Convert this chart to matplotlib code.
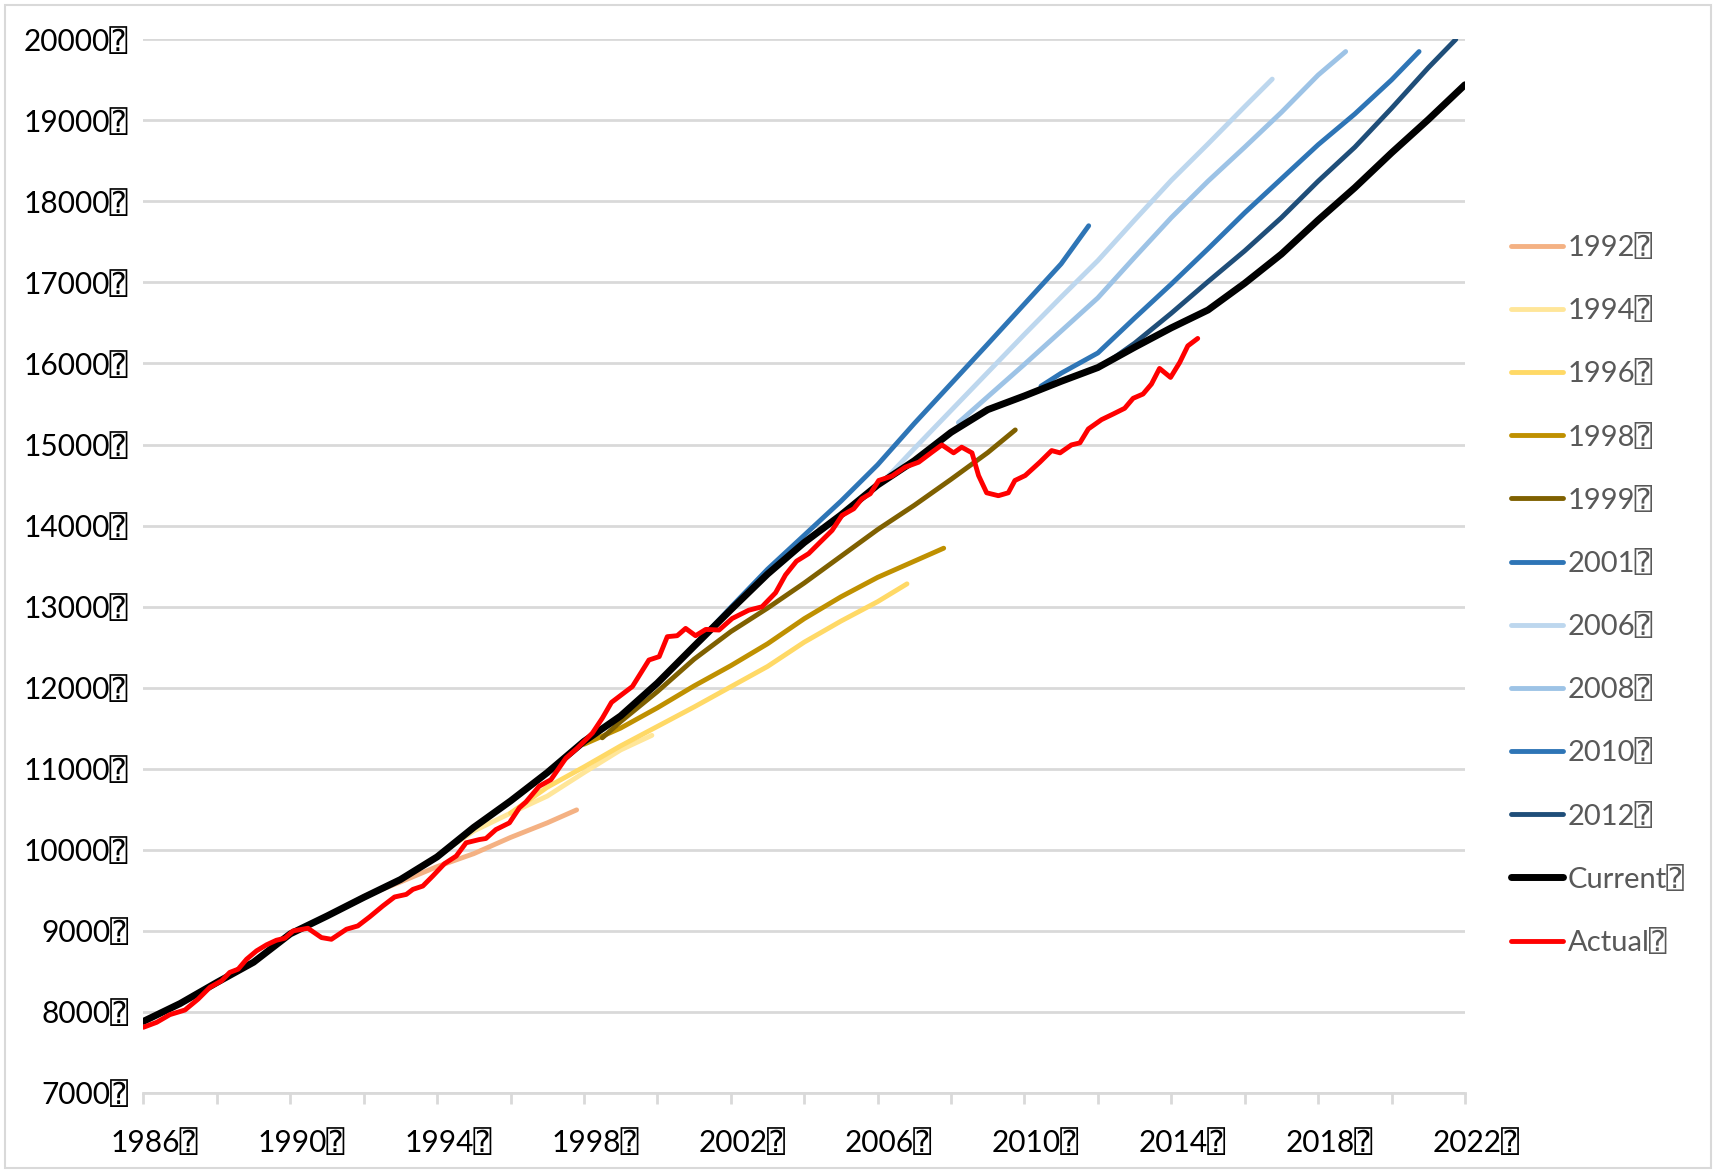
import numpy as np
import matplotlib.pyplot as plt
from matplotlib.patches import Rectangle
from matplotlib.transforms import ScaledTranslation

plt.rcParams['font.family'] = ['Lato', 'DejaVu Sans', 'DejaVu Sans Mono']

BOX = "\u2370"

# potential GDP by vintage (year, value)
yrs_1992 = [1992, 1993, 1994, 1995, 1996, 1997, 1997.8]
gdp_1992 = [9420, 9600, 9790, 9950, 10150, 10330, 10490]

yrs_1994 = [1994, 1995, 1996, 1997, 1998, 1999, 1999.85]
gdp_1994 = [9920, 10230, 10450, 10660, 10950, 11230, 11410]

yrs_1996 = [1996, 1997, 1998, 1999, 2000, 2001, 2002, 2003, 2004, 2005, 2006, 2006.8]
gdp_1996 = [10450, 10770, 11020, 11280, 11520, 11760, 12010, 12260, 12560, 12820, 13060, 13280]

yrs_1998 = [1998, 1999, 2000, 2001, 2002, 2003, 2004, 2005, 2006, 2007, 2007.8]
gdp_1998 = [11300, 11500, 11750, 12020, 12270, 12540, 12850, 13120, 13360, 13560, 13720]

yrs_1999 = [1998.5, 1999, 2000, 2001, 2002, 2003, 2004, 2005, 2006, 2007, 2008, 2009, 2009.75]
gdp_1999 = [11380, 11580, 11950, 12350, 12690, 12980, 13290, 13620, 13950, 14250, 14570, 14900, 15180]

yrs_2001 = [2001, 2002, 2003, 2004, 2005, 2006, 2007, 2008, 2009, 2010, 2011, 2011.75]
gdp_2001 = [12510, 12990, 13460, 13880, 14300, 14750, 15260, 15750, 16240, 16735, 17230, 17700]

yrs_2006 = [2006.25, 2007, 2008, 2009, 2010, 2011, 2012, 2013, 2014, 2015, 2016, 2016.75]
gdp_2006 = [14590, 14950, 15420, 15890, 16360, 16820, 17270, 17770, 18260, 18710, 19170, 19510]

yrs_2008 = [2008.2, 2009, 2010, 2011, 2012, 2013, 2014, 2015, 2016, 2017, 2018, 2018.75]
gdp_2008 = [15270, 15590, 15990, 16400, 16810, 17310, 17800, 18250, 18670, 19100, 19560, 19850]

yrs_2010 = [2010.45, 2011, 2012, 2013, 2014, 2015, 2016, 2017, 2018, 2019, 2020, 2020.75]
gdp_2010 = [15720, 15880, 16130, 16560, 16980, 17415, 17860, 18280, 18700, 19080, 19500, 19850]

yrs_2012 = [2012.25, 2013, 2014, 2015, 2016, 2017, 2018, 2019, 2020, 2021, 2021.75]
gdp_2012 = [16010, 16250, 16620, 17010, 17390, 17800, 18250, 18670, 19150, 19650, 20000]

yrs_current = [1986, 1987, 1988, 1989, 1990, 1991, 1992, 1993, 1994, 1995, 1996, 1997, 1998,
               1999, 2000, 2001, 2002, 2003, 2004, 2005, 2006, 2007, 2008, 2009, 2010, 2011,
               2012, 2013, 2014, 2015, 2016, 2017, 2018, 2019, 2020, 2021, 2022]
gdp_current = [7880, 8100, 8360, 8610, 8960, 9180, 9410, 9630, 9910, 10275, 10600, 10950, 11335,
               11650, 12055, 12510, 12960, 13400, 13790, 14130, 14500, 14800, 15150, 15430, 15600,
               15780, 15950, 16200, 16440, 16660, 16990, 17350, 17770, 18170, 18600, 19010, 19440]

yrs_actual = [1986.0, 1986.36, 1986.72, 1987.13, 1987.49, 1987.81, 1988.13, 1988.35, 1988.58,
              1988.81, 1989.08, 1989.35, 1989.62, 1989.85, 1990.08, 1990.48, 1990.85, 1991.12,
              1991.53, 1991.84, 1992.16, 1992.52, 1992.84, 1993.16, 1993.34, 1993.61, 1993.88,
              1994.2, 1994.52, 1994.79, 1995.15, 1995.33, 1995.6, 1995.97, 1996.24, 1996.42,
              1996.78, 1997.1, 1997.51, 1997.82, 1998.23, 1998.5, 1998.75, 1999.32, 1999.77,
              2000.05, 2000.27, 2000.54, 2000.77, 2001.04, 2001.32, 2001.68, 2002.04, 2002.49,
              2002.85, 2003.22, 2003.49, 2003.79, 2004.12, 2004.44, 2004.76, 2005.03, 2005.35,
              2005.57, 2005.8, 2006.03, 2006.39, 2006.75, 2007.12, 2007.48, 2007.75, 2008.07,
              2008.29, 2008.57, 2008.75, 2008.97, 2009.29, 2009.56, 2009.74, 2010.02, 2010.42,
              2010.74, 2010.97, 2011.28, 2011.51, 2011.74, 2012.1, 2012.42, 2012.73, 2012.96,
              2013.23, 2013.46, 2013.68, 2013.98, 2014.23, 2014.45, 2014.72]
gdp_actual = [7807, 7868, 7963, 8020, 8155, 8300, 8381, 8484, 8524,
              8647, 8750, 8824, 8881, 8906, 8997, 9029, 8914, 8893,
              9017, 9058, 9169, 9304, 9415, 9447, 9509, 9550, 9673,
              9826, 9920, 10084, 10124, 10137, 10247, 10330, 10515, 10588,
              10782, 10863, 11130, 11253, 11438, 11622, 11817, 12013, 12340,
              12382, 12628, 12640, 12730, 12640, 12718, 12710, 12853, 12955,
              12997, 13170, 13390, 13560, 13653, 13797, 13940, 14125, 14207,
              14330, 14392, 14556, 14610, 14720, 14782, 14905, 14995, 14897,
              14967, 14897, 14617, 14404, 14368, 14404, 14556, 14617, 14782,
              14925, 14897, 14995, 15020, 15192, 15307, 15377, 15447, 15570,
              15623, 15746, 15939, 15828, 16013, 16217, 16309]

labels = ["1992", "1994", "1996", "1998", "1999", "2001", "2006", "2008", "2010", "2012",
          "Current", "Actual"]
colors = ["#F4B183", "#FFE699", "#FFD966", "#BF9000", "#7F6000", "#2E75B6", "#BDD7EE",
          "#9DC3E6", "#2E75B6", "#1F4E79", "#000000", "#FF0000"]
series = [(yrs_1992, gdp_1992), (yrs_1994, gdp_1994), (yrs_1996, gdp_1996),
          (yrs_1998, gdp_1998), (yrs_1999, gdp_1999), (yrs_2001, gdp_2001),
          (yrs_2006, gdp_2006), (yrs_2008, gdp_2008), (yrs_2010, gdp_2010),
          (yrs_2012, gdp_2012), (yrs_current, gdp_current), (yrs_actual, gdp_actual)]

fig = plt.figure(figsize=(17.16, 11.73), dpi=100)
ax = fig.add_axes([0.0836, 0.0685, 0.7701, 0.8979])

for (x, y), lab, col in zip(series, labels, colors):
    lw = 5.0 if lab == "Current" else 3.5
    ax.plot(x, y, color=col, lw=lw, label=lab + BOX,
            solid_capstyle="round", solid_joinstyle="round")

ax.set_xlim(1986, 2022)
ax.set_ylim(7000, 20000)
ax.set_yticks(np.arange(7000, 20001, 1000))
ax.set_yticklabels([f"{v}{BOX}" for v in range(7000, 20001, 1000)])
ax.set_xticks(np.arange(1986, 2023, 4))
ax.set_xticklabels([f"{v}{BOX}" for v in range(1986, 2023, 4)])
ax.set_xticks(np.arange(1986, 2023, 2), minor=True)

ax.grid(axis="y", color="#D9D9D9", lw=2.0)
ax.set_axisbelow(True)
for s in ["top", "right", "left"]:
    ax.spines[s].set_visible(False)
ax.spines["bottom"].set_color("#D9D9D9")
ax.spines["bottom"].set_linewidth(2.0)

ax.tick_params(axis="y", length=0, pad=11, labelsize=21.5, labelcolor="black")
ax.tick_params(axis="x", which="both", length=8, width=2, color="#D9D9D9",
               pad=18, labelsize=21.5, labelcolor="black")

# x labels sit a little to the right of their ticks
shift = ScaledTranslation(0.11, 0, fig.dpi_scale_trans)
for lbl in ax.get_xticklabels():
    lbl.set_transform(lbl.get_transform() + shift)

leg = ax.legend(loc="upper left", bbox_to_anchor=(0.8805, 0.8005),
                bbox_transform=fig.transFigure, frameon=False, fontsize=21,
                handlelength=1.8, handletextpad=0.15, labelspacing=1.24,
                borderpad=0, borderaxespad=0)
for t in leg.get_texts():
    t.set_color("#595959")

fig.patches.append(Rectangle((5 / 1716, 5 / 1173), 1706 / 1716, 1163 / 1173,
                             transform=fig.transFigure, fill=False,
                             edgecolor="#D9D9D9", lw=1.5))

plt.savefig("out.png", dpi=100)
